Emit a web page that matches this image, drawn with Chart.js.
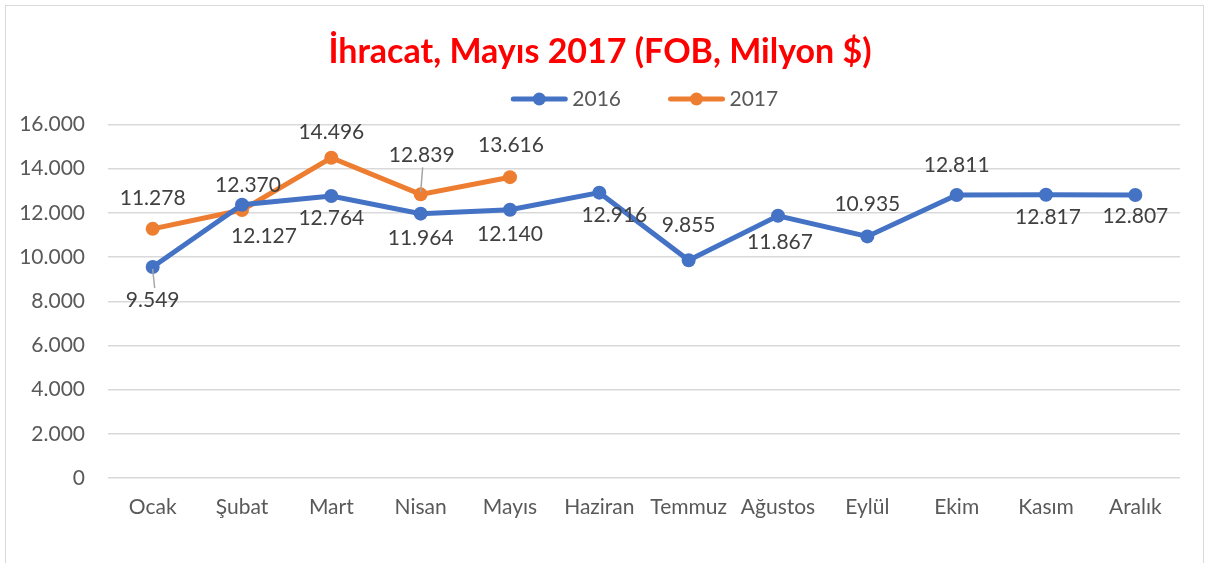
<!DOCTYPE html>
<html>
<head>
<meta charset="utf-8">
<script src="https://cdn.jsdelivr.net/npm/chart.js@4/dist/chart.umd.min.js"></script>
<style>
  html, body { margin: 0; padding: 0; background: #fff; }
  #wrap { position: relative; width: 1211px; height: 563px; }
  #frame { position: absolute; left: 5px; top: 5px; width: 1199px; height: 570px; border: 1.5px solid #d9d9d9; box-sizing: border-box; }
</style>
</head>
<body>
<div id="wrap">
  <div id="frame"></div>
  <canvas id="chart-area" width="1211" height="563"></canvas>
</div>
<script>
var months = ['Ocak', 'Şubat', 'Mart', 'Nisan', 'Mayıs', 'Haziran', 'Temmuz', 'Ağustos', 'Eylül', 'Ekim', 'Kasım', 'Aralık'];
var exports2016 = [9549, 12370, 12764, 11964, 12140, 12916, 9855, 11867, 10935, 12811, 12817, 12807];
var exports2017 = [11278, 12127, 14496, 12839, 13616];
var yTicks = [0, 2000, 4000, 6000, 8000, 10000, 12000, 14000, 16000];

// where each value label sits relative to its point (px)
var labelDy2016 = [33, -19, 22, 25, 24, 23, -35, 26, -32, -30, 22, 21];
var labelDx2016 = [0, 6, 0, 0, 0, 15, 0, 2, 0, 0, 2, 0];
var labelDy2017 = [-31, 26, -25, -39, -32];
var labelDx2017 = [0, 22, 0, 1, 1];
var leaders = [[0, 0], [1, 3]]; // [dataset, index] pairs drawn with a leader line

var blue = '#4472C4';
var orange = '#ED7D31';
var font = 'Lato, "Liberation Sans", sans-serif';
var legendBoxW = 52;

function fmt(v) {
  return String(v).replace(/\B(?=(\d{3})+(?!\d))/g, '.');
}

// line + marker icons for the legend, drawn over the (transparent) legend boxes
var legendIcons = {
  id: 'legendIcons',
  afterDraw: function(chart) {
    var lg = chart.legend;
    if (!lg || !lg.legendHitBoxes) return;
    var ctx = chart.ctx;
    ctx.save();
    lg.legendHitBoxes.forEach(function(hb, i) {
      var color = chart.data.datasets[i].borderColor;
      var x1 = hb.left + legendBoxW + 5.5;
      var x0 = x1 - 56;
      var y = hb.top + hb.height / 2;
      ctx.strokeStyle = color;
      ctx.lineWidth = 5;
      ctx.lineCap = 'round';
      ctx.beginPath(); ctx.moveTo(x0 + 2, y); ctx.lineTo(x1 - 2, y); ctx.stroke();
      ctx.fillStyle = color;
      ctx.beginPath(); ctx.arc((x0 + x1) / 2, y, 6.5, 0, Math.PI * 2); ctx.fill();
    });
    ctx.restore();
  }
};

var valueLabels = {
  id: 'valueLabels',
  afterDatasetsDraw: function(chart) {
    var ctx = chart.ctx;
    var dys = [labelDy2016, labelDy2017];
    var dxs = [labelDx2016, labelDx2017];
    ctx.save();
    ctx.font = '21px ' + font;
    ctx.fillStyle = '#404040';
    ctx.textAlign = 'center';
    ctx.textBaseline = 'middle';
    chart.data.datasets.forEach(function(ds, di) {
      var meta = chart.getDatasetMeta(di);
      meta.data.forEach(function(pt, i) {
        var lx = pt.x + dxs[di][i];
        var ly = pt.y + dys[di][i];
        var isLeader = leaders.some(function(l) { return l[0] === di && l[1] === i; });
        if (isLeader) {
          ctx.save();
          ctx.strokeStyle = '#a6a6a6';
          ctx.lineWidth = 1.5;
          ctx.beginPath();
          if (dys[di][i] > 0) {
            ctx.moveTo(pt.x, pt.y + 2); ctx.lineTo(pt.x + 2, ly - 12);
          } else {
            ctx.moveTo(pt.x + 2, ly + 12); ctx.lineTo(pt.x, pt.y - 2);
          }
          ctx.stroke();
          ctx.restore();
        }
        ctx.fillText(fmt(ds.data[i]), lx, ly);
      });
    });
    ctx.restore();
  }
};

var config = {
  type: 'line',
  data: {
    labels: months,
    datasets: [{
      label: '2016',
      data: exports2016,
      borderColor: blue,
      backgroundColor: blue,
      borderWidth: 5,
      pointRadius: 7,
      pointHoverRadius: 7,
      pointBackgroundColor: blue,
      pointBorderWidth: 0,
      tension: 0
    }, {
      label: '2017',
      data: exports2017,
      borderColor: orange,
      backgroundColor: orange,
      borderWidth: 5,
      pointRadius: 7,
      pointHoverRadius: 7,
      pointBackgroundColor: orange,
      pointBorderWidth: 0,
      tension: 0
    }]
  },
  options: {
    responsive: false,
    animation: false,
    layout: { padding: { left: 20, right: 31, top: 0, bottom: 0 } },
    plugins: {
      title: {
        display: true,
        fullSize: true,
        text: 'İhracat, Mayıs 2017 (FOB, Milyon $)',
        color: '#FF0000',
        font: { family: font, size: 34, weight: 'bold', lineHeight: 1.0 },
        padding: { top: 35, bottom: -31.5 }
      },
      legend: {
        display: true,
        fullSize: false,
        labels: {
          color: '#595959',
          font: { family: font, size: 21 },
          boxWidth: legendBoxW,
          boxHeight: 31,
          padding: 46,
          generateLabels: function(chart) {
            return chart.data.datasets.map(function(ds, i) {
              return {
                text: ds.label,
                fontColor: '#595959',
                fillStyle: 'rgba(0,0,0,0)',
                strokeStyle: 'rgba(0,0,0,0)',
                lineWidth: 0,
                datasetIndex: i,
                hidden: false
              };
            });
          }
        }
      },
      tooltip: { enabled: false }
    },
    scales: {
      x: {
        offset: true,
        grid: { display: false },
        border: { display: false },
        ticks: { color: '#595959', font: { family: font, size: 21 }, padding: 9, maxRotation: 0, autoSkip: false },
        afterFit: function(scale) { scale.height = 85; }
      },
      y: {
        min: 0,
        max: 16000,
        afterBuildTicks: function(scale) {
          scale.ticks = yTicks.map(function(v) { return { value: v }; });
        },
        grid: { color: '#d9d9d9', lineWidth: 1.5, drawTicks: false },
        border: { display: false },
        ticks: {
          color: '#595959',
          font: { family: font, size: 21 },
          padding: 23,
          callback: function(v) { return fmt(v); }
        },
        afterFit: function(scale) { scale.width = 88; }
      }
    }
  },
  plugins: [valueLabels, legendIcons]
};

window.onload = function() {
  var ctx = document.getElementById('chart-area').getContext('2d');
  window.myLine = new Chart(ctx, config);
};
</script>
</body>
</html>
